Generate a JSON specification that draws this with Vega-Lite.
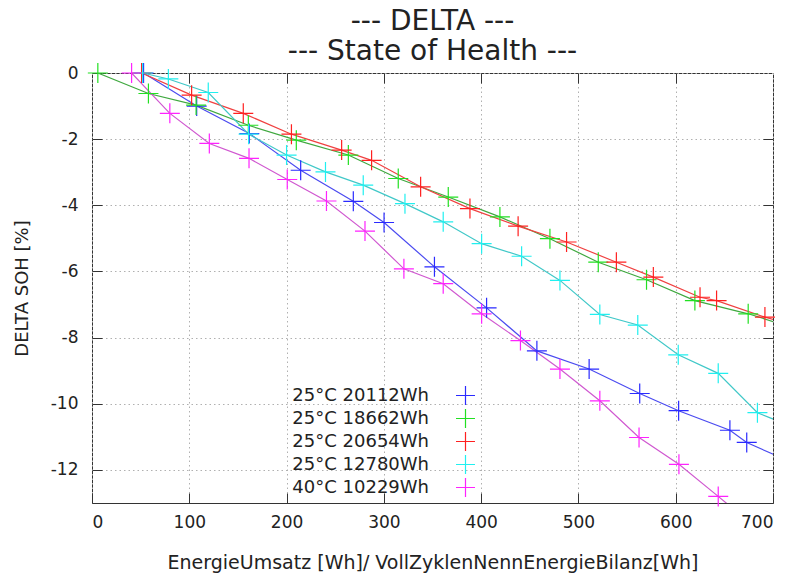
{
  "$schema": "https://vega.github.io/schema/vega-lite/v6.json",
  "width": 681,
  "height": 430,
  "autosize": "none",
  "padding": {"left": 92, "top": 73, "right": 17, "bottom": 72},
  "background": "white",
  "title": {
    "text": ["--- DELTA ---", "--- State of Health ---"],
    "font": "DejaVu Sans",
    "fontSize": 28,
    "fontWeight": "normal",
    "color": "#222222",
    "anchor": "middle",
    "offset": -5,
    "lineHeight": 30
  },
  "config": {
    "font": "DejaVu Sans",
    "view": {"stroke": "#333333", "strokeWidth": 1}
  },
  "data": {
    "values": [
      {"s": "25°C 20112Wh", "x": 53, "y": 0},
      {"s": "25°C 20112Wh", "x": 107.6, "y": -1.0},
      {"s": "25°C 20112Wh", "x": 161.7, "y": -1.83},
      {"s": "25°C 20112Wh", "x": 214.5, "y": -2.94},
      {"s": "25°C 20112Wh", "x": 268.6, "y": -3.88},
      {"s": "25°C 20112Wh", "x": 300.2, "y": -4.52},
      {"s": "25°C 20112Wh", "x": 352, "y": -5.86},
      {"s": "25°C 20112Wh", "x": 405.6, "y": -7.1},
      {"s": "25°C 20112Wh", "x": 457.3, "y": -8.4},
      {"s": "25°C 20112Wh", "x": 511, "y": -8.95},
      {"s": "25°C 20112Wh", "x": 563, "y": -9.69},
      {"s": "25°C 20112Wh", "x": 603, "y": -10.21},
      {"s": "25°C 20112Wh", "x": 655.7, "y": -10.8},
      {"s": "25°C 20112Wh", "x": 673, "y": -11.17},
      {"s": "25°C 20112Wh", "x": 705, "y": -11.59},
      {"s": "25°C 18662Wh", "x": 6, "y": 0},
      {"s": "25°C 18662Wh", "x": 58, "y": -0.62},
      {"s": "25°C 18662Wh", "x": 107, "y": -0.97},
      {"s": "25°C 18662Wh", "x": 160.7, "y": -1.58},
      {"s": "25°C 18662Wh", "x": 210, "y": -2.03},
      {"s": "25°C 18662Wh", "x": 263.5, "y": -2.48},
      {"s": "25°C 18662Wh", "x": 314.8, "y": -3.19},
      {"s": "25°C 18662Wh", "x": 366.2, "y": -3.75},
      {"s": "25°C 18662Wh", "x": 419.3, "y": -4.35},
      {"s": "25°C 18662Wh", "x": 470.7, "y": -5.01},
      {"s": "25°C 18662Wh", "x": 520.4, "y": -5.72},
      {"s": "25°C 18662Wh", "x": 570, "y": -6.25},
      {"s": "25°C 18662Wh", "x": 619.7, "y": -6.88},
      {"s": "25°C 18662Wh", "x": 674.5, "y": -7.28},
      {"s": "25°C 18662Wh", "x": 705, "y": -7.56},
      {"s": "25°C 20654Wh", "x": 51, "y": 0},
      {"s": "25°C 20654Wh", "x": 102.4, "y": -0.67},
      {"s": "25°C 20654Wh", "x": 155.5, "y": -1.22},
      {"s": "25°C 20654Wh", "x": 205, "y": -1.85},
      {"s": "25°C 20654Wh", "x": 256.6, "y": -2.33},
      {"s": "25°C 20654Wh", "x": 287.4, "y": -2.64},
      {"s": "25°C 20654Wh", "x": 337.8, "y": -3.44},
      {"s": "25°C 20654Wh", "x": 388.5, "y": -4.1},
      {"s": "25°C 20654Wh", "x": 438, "y": -4.63},
      {"s": "25°C 20654Wh", "x": 487.8, "y": -5.11},
      {"s": "25°C 20654Wh", "x": 539, "y": -5.72},
      {"s": "25°C 20654Wh", "x": 577, "y": -6.17},
      {"s": "25°C 20654Wh", "x": 625, "y": -6.78},
      {"s": "25°C 20654Wh", "x": 642, "y": -6.88},
      {"s": "25°C 20654Wh", "x": 691.7, "y": -7.38},
      {"s": "25°C 20654Wh", "x": 705, "y": -7.49},
      {"s": "25°C 12780Wh", "x": 52, "y": 0},
      {"s": "25°C 12780Wh", "x": 78.5, "y": -0.18},
      {"s": "25°C 12780Wh", "x": 119.5, "y": -0.59},
      {"s": "25°C 12780Wh", "x": 161, "y": -1.85},
      {"s": "25°C 12780Wh", "x": 200, "y": -2.48},
      {"s": "25°C 12780Wh", "x": 240, "y": -2.99},
      {"s": "25°C 12780Wh", "x": 278.8, "y": -3.39},
      {"s": "25°C 12780Wh", "x": 321.7, "y": -3.95},
      {"s": "25°C 12780Wh", "x": 361, "y": -4.5},
      {"s": "25°C 12780Wh", "x": 400.5, "y": -5.16},
      {"s": "25°C 12780Wh", "x": 441.6, "y": -5.54},
      {"s": "25°C 12780Wh", "x": 481, "y": -6.27},
      {"s": "25°C 12780Wh", "x": 522, "y": -7.3},
      {"s": "25°C 12780Wh", "x": 561, "y": -7.62},
      {"s": "25°C 12780Wh", "x": 602.6, "y": -8.52},
      {"s": "25°C 12780Wh", "x": 643.7, "y": -9.08},
      {"s": "25°C 12780Wh", "x": 684, "y": -10.27},
      {"s": "25°C 12780Wh", "x": 705, "y": -10.52},
      {"s": "40°C 10229Wh", "x": 40.7, "y": 0},
      {"s": "40°C 10229Wh", "x": 80, "y": -1.22},
      {"s": "40°C 10229Wh", "x": 120.6, "y": -2.13},
      {"s": "40°C 10229Wh", "x": 161.4, "y": -2.58},
      {"s": "40°C 10229Wh", "x": 200.7, "y": -3.22},
      {"s": "40°C 10229Wh", "x": 241, "y": -3.87},
      {"s": "40°C 10229Wh", "x": 280.6, "y": -4.78},
      {"s": "40°C 10229Wh", "x": 320.6, "y": -5.92},
      {"s": "40°C 10229Wh", "x": 361, "y": -6.37},
      {"s": "40°C 10229Wh", "x": 400.5, "y": -7.28},
      {"s": "40°C 10229Wh", "x": 440.4, "y": -8.09},
      {"s": "40°C 10229Wh", "x": 481, "y": -8.95},
      {"s": "40°C 10229Wh", "x": 522, "y": -9.91},
      {"s": "40°C 10229Wh", "x": 562.3, "y": -11.02},
      {"s": "40°C 10229Wh", "x": 603.3, "y": -11.83},
      {"s": "40°C 10229Wh", "x": 643.7, "y": -12.8},
      {"s": "40°C 10229Wh", "x": 656, "y": -13.1}
    ]
  },
  "layer": [
    {
      "mark": {"type": "line", "clip": true, "strokeWidth": 1.2},
      "encoding": {
        "x": {
          "field": "x", "type": "quantitative",
          "scale": {"domain": [0, 700], "nice": false, "zero": false},
          "axis": {
            "orient": "bottom",
            "values": [0, 100, 200, 300, 400, 500, 600, 700],
            "domain": false,
            "grid": true, "gridColor": "#b0b0b0", "gridDash": [1.5, 3], "gridWidth": 1,
            "tickSize": -10, "tickColor": "#333333", "tickWidth": 1,
            "labelFontSize": 17, "labelColor": "#222222", "labelPadding": 21,
            "labelFont": "DejaVu Sans",
            "title": "EnergieUmsatz [Wh]/ VollZyklenNennEnergieBilanz[Wh]",
            "titleFont": "DejaVu Sans", "titleFontSize": 19, "titleFontWeight": "normal",
            "titleColor": "#222222", "titlePadding": 23
          }
        },
        "y": {
          "field": "y", "type": "quantitative",
          "scale": {"domain": [-13, 0], "nice": false, "zero": false},
          "axis": {
            "orient": "left",
            "values": [0, -2, -4, -6, -8, -10, -12],
            "labelExpr": "replace(format(datum.value, 'd'), '−', '-')",
            "domain": false,
            "grid": true, "gridColor": "#b0b0b0", "gridDash": [1.5, 3], "gridWidth": 1,
            "tickSize": -10, "tickColor": "#333333", "tickWidth": 1,
            "labelFontSize": 17, "labelColor": "#222222", "labelPadding": 24,
            "labelFont": "DejaVu Sans",
            "title": "DELTA SOH [%]",
            "titleFont": "DejaVu Sans", "titleFontSize": 18, "titleFontWeight": "normal",
            "titleColor": "#222222", "titlePadding": 19
          }
        },
        "stroke": {
          "field": "s", "type": "nominal",
          "scale": {
            "domain": ["40°C 10229Wh", "25°C 12780Wh", "25°C 20654Wh", "25°C 18662Wh", "25°C 20112Wh"],
            "range": ["#d058d0", "#40c8c8", "#f04040", "#3fa83f", "#4b4bf0"]
          },
          "legend": null
        }
      }
    },
    {
      "transform": [{"filter": "datum.x <= 700 && datum.y >= -13"}],
      "mark": {"type": "point", "shape": "M-1,0H1M0,-1V1", "size": 400, "filled": false, "strokeWidth": 1.2, "opacity": 1},
      "encoding": {
        "x": {
          "field": "x", "type": "quantitative",
          "scale": {"domain": [0, 700], "nice": false, "zero": false},
          "axis": {
            "orient": "top", "values": [100, 200, 300, 400, 500, 600],
            "domain": false, "grid": false, "labels": false, "title": null,
            "tickSize": -10, "tickColor": "#333333"
          }
        },
        "y": {
          "field": "y", "type": "quantitative",
          "scale": {"domain": [-13, 0], "nice": false, "zero": false},
          "axis": {
            "orient": "right", "values": [-2, -4, -6, -8, -10, -12],
            "domain": false, "grid": false, "labels": false, "title": null,
            "tickSize": -10, "tickColor": "#333333"
          }
        },
        "color": {
          "field": "s", "type": "nominal",
          "scale": {
            "domain": ["25°C 20112Wh", "25°C 18662Wh", "25°C 20654Wh", "25°C 12780Wh", "40°C 10229Wh"],
            "range": ["#2a2aff", "#22e022", "#ff2020", "#20f0f0", "#ff22ff"]
          },
          "legend": {
            "orient": "none", "legendX": 363, "legendY": 312,
            "title": null, "padding": 0,
            "symbolType": "M-1,0H1M0,-1V1", "symbolSize": 360, "symbolStrokeWidth": 1.2,
            "labelFont": "DejaVu Sans", "labelFontSize": 18, "labelColor": "#222222",
            "labelAlign": "right", "labelOffset": -47, "labelLimit": 400,
            "rowPadding": -8
          }
        }
      }
    }
  ],
  "resolve": {"axis": {"x": "independent", "y": "independent"}}
}
